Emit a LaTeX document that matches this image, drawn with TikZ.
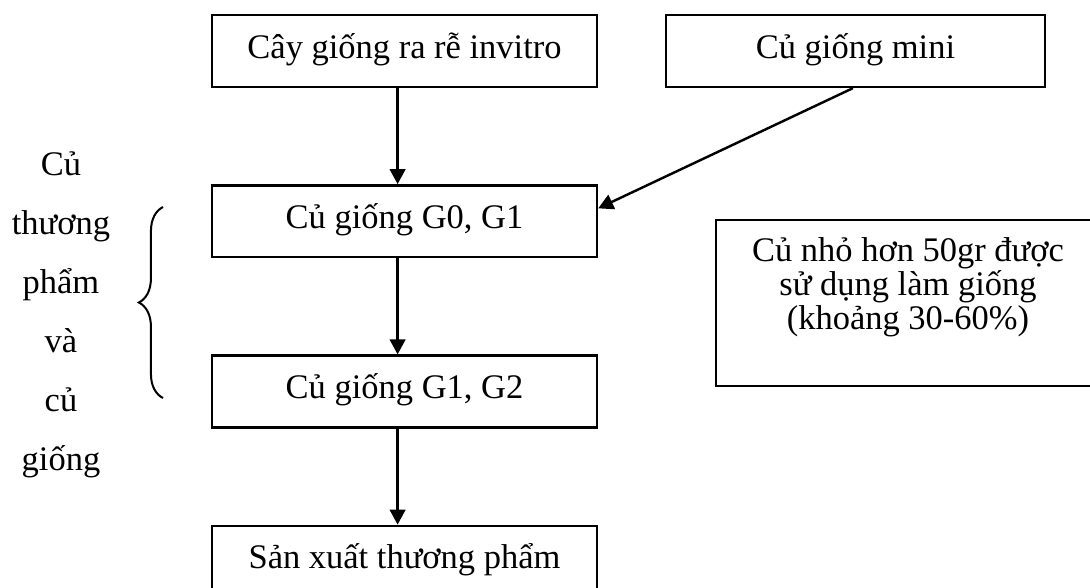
\documentclass[tikz,border=0pt]{standalone}
\usepackage{fontspec}
\setmainfont{Liberation Serif}
\usepackage{tikz}
\usetikzlibrary{arrows.meta}
\usetikzlibrary{positioning}
\usetikzlibrary{decorations.pathreplacing}
\tikzset{stage/.style={draw=black,line width=0.85pt,minimum width=134pt,minimum height=25pt,inner sep=0pt,text height=8pt,text depth=3pt,font=\fontsize{12}{12}\selectfont}}
\tikzset{notebox/.style={draw=black,line width=0.85pt,minimum width=133.6pt,minimum height=57.8pt,inner sep=0pt}}
\tikzset{flow/.style={-{Triangle[width=5.4pt,length=5.2pt]},line width=0.85pt}}
\tikzset{sideword/.style={anchor=base,inner sep=0pt,font=\fontsize{12}{12}\selectfont}}

\begin{document}
\begin{tikzpicture}[x=0.348pt,y=-0.348pt,node distance=33.4pt]

\clip (0,0) rectangle (1090,587);

\node[stage] (seed) at (404.5,51) {Cây giống ra rễ invitro};
\node[stage,minimum width=131.9pt] (mini) at (855.5,51) {Củ giống mini};
\node[stage,below=of seed] (g0) {Củ giống G0, G1};
\node[stage,below=of g0] (g1) {Củ giống G1, G2};
\node[stage,below=of g1] (prod) {Sản xuất thương phẩm};

\draw[flow] ([xshift=-2.4pt]seed.south) -- ([xshift=-2.4pt]g0.north);
\draw[flow] ([xshift=-2.4pt]g0.south) -- ([xshift=-2.4pt]g1.north);
\draw[flow] ([xshift=-2.4pt]g1.south) -- ([xshift=-2.4pt]prod.north);
\draw[flow] ([xshift=-0.9pt]mini.south) -- ([yshift=4.5pt]g0.east);

\node[notebox] (note) at (908,303) {};
\node[anchor=north,align=center,inner sep=0pt,font=\fontsize{12}{11.8}\selectfont] (notetext) at ([yshift=-14.6pt]note.north)
  {\smash{Củ nhỏ hơn 50gr được}\\sử dụng làm giống\\(khoảng 30-60\%)};

\foreach \w [count=\i] in {Củ, thương, phẩm, và, củ, giống}
  {
 \node[sideword] (side\i) at (61, 116+59*\i) {\w};
 }

\coordinate (btop) at (163,207);
\coordinate (bbot) at (163,398);
\draw[line width=0.7pt,decorate,decoration={brace,amplitude=8.4pt}] (bbot) -- (btop);

\end{tikzpicture}
\end{document}
